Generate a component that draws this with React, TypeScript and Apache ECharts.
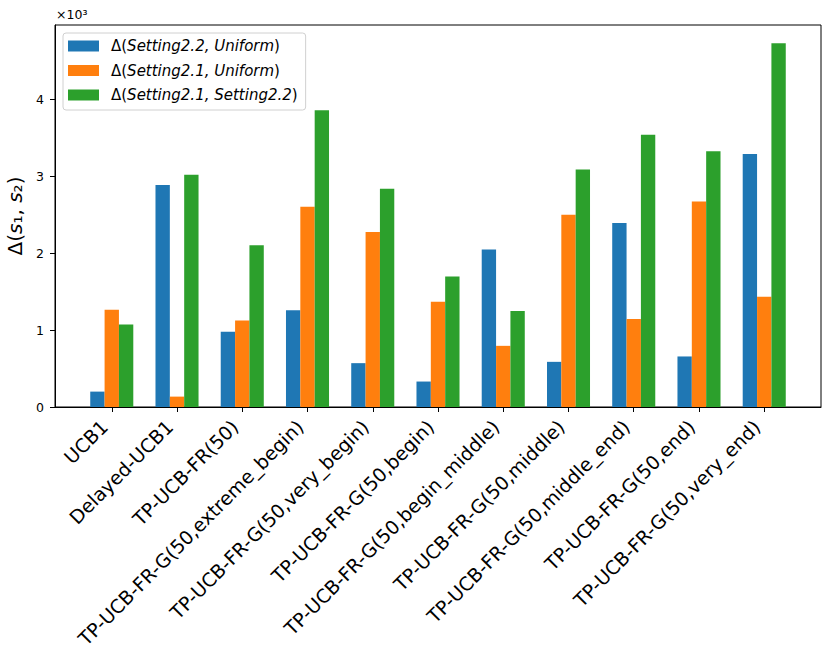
import React, { useEffect, useRef } from 'react';
import * as echarts from 'echarts';

const categories = [
  'UCB1',
  'Delayed-UCB1',
  'TP-UCB-FR(50)',
  'TP-UCB-FR-G(50,extreme_begin)',
  'TP-UCB-FR-G(50,very_begin)',
  'TP-UCB-FR-G(50,begin)',
  'TP-UCB-FR-G(50,begin_middle)',
  'TP-UCB-FR-G(50,middle)',
  'TP-UCB-FR-G(50,middle_end)',
  'TP-UCB-FR-G(50,end)',
  'TP-UCB-FR-G(50,very_end)',
];

const seriesNames = ['Setting2.2, Uniform', 'Setting2.1, Uniform', 'Setting2.1, Setting2.2'];

// values in units of 10^3
const setting22Uniform = [0.2, 2.886, 0.978, 1.257, 0.57, 0.331, 2.047, 0.587, 2.391, 0.657, 3.29];
const setting21Uniform = [1.265, 0.135, 1.126, 2.604, 2.274, 1.369, 0.795, 2.499, 1.143, 2.673, 1.434];
const setting21Setting22 = [1.074, 3.02, 2.104, 3.859, 2.838, 1.695, 1.248, 3.086, 3.538, 3.325, 4.729];

const yTicks = [0, 1, 2, 3, 4];

const colors = ['#1f77b4', '#ff7f0e', '#2ca02c'];

export default function App() {
  const ref = useRef<HTMLDivElement>(null);

  useEffect(() => {
    document.body.style.margin = '0';
    if (!ref.current) return;
    const chart = echarts.init(ref.current, undefined, { renderer: 'svg' });
    const font = 'DejaVu Sans';
    const idx = categories.map((_, i) => i);
    const allValues = [setting22Uniform, setting21Uniform, setting21Setting22];

    chart.setOption({
      animation: false,
      backgroundColor: '#fff',
      grid: {
        left: 55,
        right: 10,
        top: 25,
        bottom: 254,
        show: true,
        borderColor: '#000',
        borderWidth: 1,
        outerBoundsMode: 'none',
        containLabel: false,
      },
      legend: {
        orient: 'vertical',
        left: 63,
        top: 33,
        padding: [5, 8, 7, 5],
        itemGap: 8.5,
        itemWidth: 31,
        itemHeight: 11,
        icon: 'rect',
        backgroundColor: '#fff',
        borderColor: '#d0d0d0',
        borderWidth: 1,
        borderRadius: 3,
        data: seriesNames,
        formatter: (name: string) => `{n|Δ(}{i|${name}}{n|)}`,
        textStyle: {
          padding: [0, 0, 0, 7],
          lineHeight: 16,
          rich: {
            n: { fontFamily: font, fontSize: 15, color: '#000', lineHeight: 16 },
            i: { fontFamily: font, fontSize: 15, fontStyle: 'italic', color: '#000', lineHeight: 16 },
          },
        },
      },
      xAxis: {
        type: 'value',
        min: -0.87,
        max: 10.87,
        splitLine: { show: false },
        axisLine: { show: true, onZero: false, lineStyle: { color: '#000', width: 1 } },
        axisTick: {
          show: true,
          customValues: idx,
          length: 5,
          lineStyle: { color: '#000', width: 1 },
        },
        axisLabel: {
          customValues: idx,
          formatter: (v: number) => categories[Math.round(v)] ?? '',
          rotate: 45,
          fontSize: 19,
          fontFamily: font,
          color: '#000',
          margin: 9,
          padding: [0, 10.5, 0, 0],
        },
      },
      yAxis: {
        type: 'value',
        min: 0,
        max: 4.966,
        splitLine: { show: false },
        axisLine: { show: true, onZero: false, lineStyle: { color: '#000', width: 1 } },
        axisTick: {
          show: true,
          customValues: yTicks,
          length: 5,
          lineStyle: { color: '#000', width: 1 },
        },
        axisLabel: {
          customValues: yTicks,
          fontSize: 12.5,
          fontFamily: font,
          color: '#000',
          margin: 11,
        },
        name: '{n|Δ(}{i|s}{n|₁, }{i|s}{n|₂)}',
        nameLocation: 'middle',
        nameGap: 26,
        nameTextStyle: {
          rich: {
            n: { fontFamily: font, fontSize: 20, color: '#000' },
            i: { fontFamily: font, fontSize: 20, fontStyle: 'italic', color: '#000' },
          },
        },
      },
      graphic: [
        {
          type: 'text',
          left: 56,
          top: 8,
          style: { text: '×10³', fontFamily: font, fontSize: 12.5, fill: '#000' },
        },
      ],
      series: seriesNames.map((name, s) => ({
        name,
        type: 'bar',
        data: allValues[s].map((v, i) => [i, v]),
        barWidth: 14.35,
        barGap: '0%',
        itemStyle: { color: colors[s] },
      })),
    });

    return () => chart.dispose();
  }, []);

  return <div ref={ref} style={{ width: 831, height: 661 }} />;
}
